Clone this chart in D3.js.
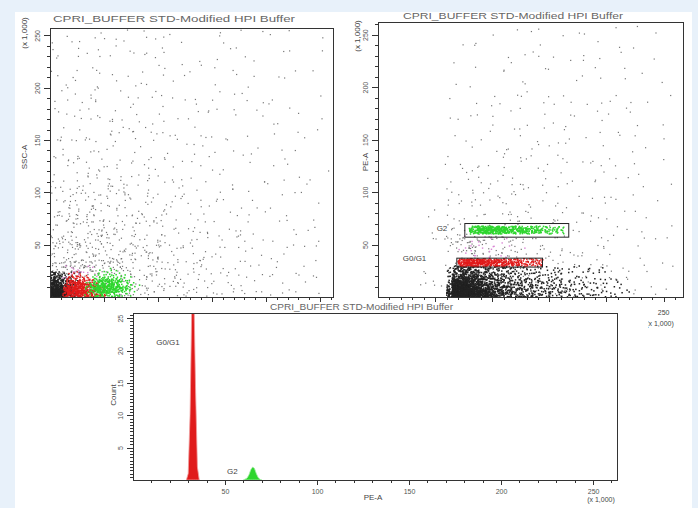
<!DOCTYPE html>
<html>
<head>
<meta charset="utf-8">
<style>
body { margin: 0; background: #e8f1fa; }
svg { display: block; font-family: "Liberation Sans", Arial, sans-serif; }
.axis path, .axis line { stroke: #333; shape-rendering: crispEdges; }
.axis text { fill: #555; font-size: 7px; font-family: "Liberation Sans", Arial, sans-serif; }
.lbl { fill: #444; font-size: 8px; }
.ttl { fill: #666; font-size: 8.5px; }
</style>
</head>
<body>
<svg width="698" height="508"></svg>
<script src="https://cdnjs.cloudflare.com/ajax/libs/d3/7.8.5/d3.min.js"></script>
<script>

var titleText = "CPRI_BUFFER STD-Modified HPI Buffer";
var majorTicks = [50, 100, 150, 200, 250];
var histTicks = [5, 10, 15, 20, 25];

// event counts per grid cell, rows listed top to bottom (units x 1,000)
// panel 1 (SSC-A), 20 x 20 cells from (0,0)
var p1Sparse = [
  [2,3,3,3,3,2,2,2,2,1,1,1,1],
  [3,3,3,3,3,3,2,2,2,2,1,1,1],
  [3,4,4,3,3,3,2,2,2,2,2,1,1],
  [4,4,4,4,3,3,3,2,2,2,2,1,1],
  [4,5,5,4,4,3,3,3,2,2,2,1,1],
  [5,6,6,5,4,4,3,3,2,2,2,2,1],
  [6,7,7,6,5,4,4,3,3,2,2,2,1],
  [8,10,10,8,6,5,4,3,3,3,2,2,1],
  [11,14,13,11,8,6,5,4,3,3,2,2,1],
  [16,19,18,14,11,8,6,5,4,3,3,2,2],
  [24,28,25,20,15,11,8,6,5,4,3,3,2],
  [38,40,33,26,19,14,10,8,6,5,4,3,2],
  [30,26,22,22,18,14,11,8,6,5,4,3,2]
];
// 4 x 4 cells from (0,0)
var p1Black = [
  [8,7,5,3,2,1,1],
  [12,11,8,5,3,2,1],
  [20,18,13,8,5,3,2],
  [32,30,22,14,8,5,3],
  [45,42,32,20,12,7,4],
  [55,50,38,26,16,9,5]
];
// 4 x 4 cells from (12,0)
var p1Red = [
  [0,1,2,2,1,1,0,0,0,0],
  [1,4,6,6,5,3,2,1,0,0],
  [3,9,12,12,10,8,5,3,1,0],
  [6,14,18,18,16,13,10,6,3,1],
  [8,18,22,22,20,18,14,10,6,3],
  [8,16,18,18,17,15,12,9,6,3]
];
// 4 x 4 cells from (32,0)
var p1Green = [
  [0,0,0,1,1,1,1,1,0,0,0,0,0],
  [0,0,1,2,2,2,2,1,1,1,0,0,0],
  [0,1,3,5,6,6,5,4,3,2,1,0,0],
  [1,3,8,12,14,14,12,10,7,4,2,1,0],
  [2,6,14,18,20,20,18,15,10,6,3,1,1],
  [2,6,12,16,18,18,16,13,9,5,3,1,0],
  [1,2,4,6,6,6,5,4,3,2,1,0,0]
];
// 6 x 6 cells from (12,18)
var p1Pink = [
  [1,2,2,1,1,0,0],
  [2,3,3,2,1,1,0]
];

// panel 2 (PE-A), 20 x 20 cells from (0,0)
var p2Sparse = [
  [0,0,0,1,1,1,2,2,2,2,1,1,1],
  [0,0,0,1,1,2,2,2,2,2,2,1,1],
  [0,0,0,1,2,2,2,2,2,2,2,1,1],
  [0,0,0,1,2,2,3,3,2,2,2,2,1],
  [0,0,0,2,2,3,3,3,3,2,2,2,1],
  [0,0,0,2,3,3,3,3,3,3,2,2,1],
  [0,0,1,3,4,4,4,3,3,3,2,2,1],
  [0,0,1,4,5,5,4,4,3,3,2,2,1],
  [0,0,1,6,7,6,5,4,4,3,3,2,1],
  [0,0,2,10,10,8,6,5,4,3,3,2,1],
  [0,0,3,30,30,18,10,7,5,4,3,2,2],
  [0,0,3,20,20,16,12,9,7,5,4,3,2],
  [0,1,4,10,10,10,10,10,8,6,5,3,2]
];
// 5 x 5 cells from (60,0)
var p2Base = [
  [2,10,12,11,9,8,7,6,5,5,4,4,3,3,3,2,2,2,2,2,1,1,1,1,1,1,1,1,0,0,0,0],
  [3,16,20,18,15,13,11,9,8,7,6,5,4,4,3,3,3,2,2,2,2,1,1,1,1,1,1,1,0,0,0,0],
  [5,30,36,32,26,21,17,13,11,9,8,7,6,5,5,4,4,3,3,3,2,2,2,2,1,1,1,1,1,1,0,0],
  [8,50,60,52,42,32,25,19,15,12,10,9,8,7,6,5,5,4,4,3,3,3,2,2,2,2,1,1,1,1,1,0],
  [14,80,90,78,60,45,34,26,20,16,13,11,10,9,8,7,6,5,5,4,4,3,3,3,2,2,2,2,1,1,1,1],
  [25,115,115,95,72,54,40,30,23,18,15,13,11,10,9,8,7,6,6,5,5,4,4,3,3,3,2,2,2,2,1,1]
];
// 5 x 2.5 cells from (70,29)
var p2Red = [
  [9,14,14,14,13,11,10,9,8,7,6,5,4,4,3],
  [14,22,22,21,20,17,14,13,11,10,8,7,6,4,4],
  [9,14,14,14,13,11,10,9,8,7,6,5,4,4,3]
];
// 5 x 2.5 cells from (80,60)
var p2Green = [
  [8,12,14,14,12,12,10,9,9,8,7,6,5,4,3,3,2],
  [14,21,22,22,21,20,18,16,15,13,12,10,8,6,5,4,3],
  [8,12,14,14,12,12,10,9,9,8,7,6,5,4,3,3,2]
];
// 10 x 7 cells from (70,37)
var p2Pink = [
  [1,2,2,1,1,0,0],
  [2,3,2,2,1,1,0],
  [1,2,2,1,1,0,0]
];

// gates on panel 2, data units
var gateNames = ["G2", "G0/G1"];
var gateX = [[76, 167], [69, 144]];
var gateY = [[57, 70], [28.5, 37]];

// histogram of PE-A (count per bin)
var redBins   = [29, 30, 31, 32, 33, 34, 35, 36];
var redCounts = [0, 1, 10, 28, 30, 14, 2, 0];
var greenBins   = [60, 62, 63, 64, 65, 66, 67, 68, 69, 70];
var greenCounts = [0, 0.3, 0.8, 1.6, 2.0, 1.8, 1.0, 0.4, 0.1, 0];

var colors = { black: "#222", sparse: "#555", red: "#e01b1b", green: "#2ed62e", pink: "#d985d4" };

var svg = d3.select("svg");
svg.append("rect").attr("x", 15).attr("y", 12).attr("width", 677).attr("height", 496).attr("fill", "#fff");

// deterministic hash used to scatter a cell's events inside the cell
function hash(n) { var s = Math.sin(n * 12.9898 + 78.233) * 43758.5453; return s - Math.floor(s); }

function cellPoints(rows, x0, y0, w, h, seed) {
  var pts = [];
  rows.forEach(function(row, r) {
    var yb = y0 + (rows.length - 1 - r) * h;
    row.forEach(function(n, c) {
      var xl = x0 + c * w;
      for (var i = 0; i < n; i++) {
        var k = seed * 10007 + r * 997 + c * 101 + i * 7.31;
        pts.push([xl + hash(k) * w, yb + hash(k + 0.517) * h]);
      }
    });
  });
  return pts;
}

function drawDots(g, pts, x, y, color, size, op) {
  g.append("g").attr("opacity", op || 1).selectAll("rect").data(pts).join("rect")
    .attr("x", function(d) { return x(d[0]) - size / 2; })
    .attr("y", function(d) { return y(d[1]) - size / 2; })
    .attr("width", size).attr("height", size)
    .attr("fill", color);
}

function minorTicks(max, step) { return d3.range(step, max, step); }

function drawAxes(g, x, y, w, h, xStep, yStep, yMajor) {
  var xmax = x.domain()[1], ymax = y.domain()[1];
  g.append("g").attr("class", "axis").attr("transform", "translate(0," + h + ")")
    .call(d3.axisBottom(x).tickValues(minorTicks(xmax, xStep)).tickSize(3).tickFormat(""))
    .call(function(a) { a.select(".domain").remove(); });
  g.append("g").attr("class", "axis").attr("transform", "translate(0," + h + ")")
    .call(d3.axisBottom(x).tickValues(majorTicks).tickSize(5).tickSizeOuter(0).tickFormat(""));
  g.append("g").attr("class", "axis")
    .call(d3.axisLeft(y).tickValues(minorTicks(ymax, yStep)).tickSize(3).tickFormat(""))
    .call(function(a) { a.select(".domain").remove(); });
  var ya = g.append("g").attr("class", "axis")
    .call(d3.axisLeft(y).tickValues(yMajor).tickSize(6).tickSizeOuter(0));
  ya.selectAll("text").attr("transform", "rotate(-90)")
    .attr("x", 0).attr("y", -10).attr("dy", 0).attr("text-anchor", "middle");
  // frame top and right
  g.append("path").attr("d", "M0,0H" + w + "V" + h)
    .attr("fill", "none").attr("stroke", "#333").attr("shape-rendering", "crispEdges");
}

function rotLabel(g, cx, cy, txt) {
  g.append("text").attr("class", "lbl")
    .attr("transform", "translate(" + cx + "," + cy + ") rotate(-90)")
    .attr("text-anchor", "middle").attr("dy", "0.35em").text(txt);
}

function panel(opt) {
  var w = opt.right - opt.left, h = opt.bottom - opt.top;
  var g = svg.append("g").attr("transform", "translate(" + opt.left + "," + opt.top + ")");
  var x = d3.scaleLinear().domain([0, opt.xmax]).range([0, w]);
  var y = d3.scaleLinear().domain([0, opt.ymax]).range([h, 0]);
  var id = "clip" + opt.left;
  svg.append("clipPath").attr("id", id).append("rect").attr("width", w).attr("height", h);
  var plot = g.append("g").attr("clip-path", "url(#" + id + ")");
  return { g: g, plot: plot, x: x, y: y, w: w, h: h };
}

// ---------- panel 1: SSC-A ----------
var P1 = panel({ left: 50, right: 333, top: 28, bottom: 297, xmax: 262, ymax: 257 });
drawDots(P1.plot, cellPoints(p1Sparse, 0, 0, 20, 20, 1), P1.x, P1.y, colors.sparse, 1.2, 0.8);
drawDots(P1.plot, cellPoints(p1Black, 0, 0, 4, 4, 2), P1.x, P1.y, colors.black, 1.5);
drawDots(P1.plot, cellPoints(p1Pink, 12, 18, 6, 6, 3), P1.x, P1.y, colors.pink, 1.4);
drawDots(P1.plot, cellPoints(p1Red, 12, 0, 4, 4, 4), P1.x, P1.y, colors.red, 1.5);
drawDots(P1.plot, cellPoints(p1Green, 32, 0, 4, 4, 5), P1.x, P1.y, colors.green, 1.5);
drawAxes(P1.g, P1.x, P1.y, P1.w, P1.h, 10, 10, majorTicks);
svg.append("text").attr("class", "ttl").attr("x", 53).attr("y", 22)
  .attr("textLength", 242).attr("lengthAdjust", "spacingAndGlyphs").text(titleText);
rotLabel(svg, 24, 157, "SSC-A");
rotLabel(svg, 24, 33, "(x 1,000)");

// ---------- panel 2: PE-A ----------
var P2 = panel({ left: 378, right: 683, top: 22, bottom: 297, xmax: 267, ymax: 262 });
drawDots(P2.plot, cellPoints(p2Sparse, 0, 0, 20, 20, 6), P2.x, P2.y, colors.sparse, 1.2, 0.8);
drawDots(P2.plot, cellPoints(p2Base, 60, 0, 5, 5, 7), P2.x, P2.y, colors.black, 1.5);
drawDots(P2.plot, cellPoints(p2Pink, 70, 37, 10, 7, 8), P2.x, P2.y, colors.pink, 1.4);
drawDots(P2.plot, cellPoints(p2Red, 70, 29, 5, 2.5, 9), P2.x, P2.y, colors.red, 1.5);
drawDots(P2.plot, cellPoints(p2Green, 80, 60, 5, 2.5, 10), P2.x, P2.y, colors.green, 1.5);
gateNames.forEach(function(n, i) {
  P2.g.append("rect")
    .attr("x", P2.x(gateX[i][0])).attr("y", P2.y(gateY[i][1]))
    .attr("width", P2.x(gateX[i][1]) - P2.x(gateX[i][0]))
    .attr("height", P2.y(gateY[i][0]) - P2.y(gateY[i][1]))
    .attr("fill", "none").attr("stroke", "#222").attr("stroke-width", 1);
});
P2.g.append("text").attr("class", "lbl").attr("x", P2.x(56)).attr("y", P2.y(65.5))
  .attr("text-anchor", "middle").attr("dy", "0.35em").text("G2");
P2.g.append("text").attr("class", "lbl").attr("x", P2.x(32)).attr("y", P2.y(37))
  .attr("text-anchor", "middle").attr("dy", "0.35em").text("G0/G1");
drawAxes(P2.g, P2.x, P2.y, P2.w, P2.h, 10, 10, majorTicks);
svg.append("text").attr("class", "ttl").attr("x", 403).attr("y", 19)
  .attr("textLength", 220).attr("lengthAdjust", "spacingAndGlyphs").text(titleText);
rotLabel(svg, 365, 162, "PE-A");
rotLabel(svg, 357, 36, "(x 1,000)");
svg.append("text").attr("class", "lbl").attr("x", 378 + P2.x(250)).attr("y", 315)
  .attr("text-anchor", "middle").style("font-size", "7px").text("250");
svg.append("text").attr("class", "lbl").attr("x", 660).attr("y", 326)
  .attr("text-anchor", "middle").style("font-size", "7px").text("(x 1,000)");

// ---------- panel 3: histogram ----------
svg.append("rect").attr("x", 15).attr("y", 302).attr("width", 633).attr("height", 206).attr("fill", "#fff");
var P3 = panel({ left: 133, right: 617, top: 313, bottom: 480, xmax: 263, ymax: 25.8 });
var area = d3.area()
  .x(function(d) { return P3.x(d[0]); })
  .y0(P3.h)
  .y1(function(d) { return P3.y(d[1]); });
P3.plot.append("path").datum(d3.zip(redBins, redCounts)).attr("d", area)
  .attr("fill", colors.red).attr("stroke", "#f0a0a0").attr("stroke-width", 0.8);
P3.plot.append("path").datum(d3.zip(greenBins, greenCounts)).attr("d", area)
  .attr("fill", colors.green).attr("stroke", "#a8eea8").attr("stroke-width", 0.8);
P3.g.append("text").attr("class", "lbl").attr("x", P3.x(19)).attr("y", P3.y(21.3))
  .attr("text-anchor", "middle").attr("dy", "0.35em").text("G0/G1");
P3.g.append("text").attr("class", "lbl").attr("x", P3.x(54)).attr("y", P3.y(1.4))
  .attr("text-anchor", "middle").attr("dy", "0.35em").text("G2");
drawAxes(P3.g, P3.x, P3.y, P3.w, P3.h, 10, 0.5, histTicks);
P3.g.append("g").attr("class", "axis").attr("transform", "translate(0," + P3.h + ")")
  .call(d3.axisBottom(P3.x).tickValues(majorTicks).tickSize(5).tickPadding(4))
  .call(function(a) { a.select(".domain").remove(); });
svg.append("text").attr("class", "ttl").attr("x", 270).attr("y", 310)
  .attr("textLength", 183).attr("lengthAdjust", "spacingAndGlyphs").text(titleText);
rotLabel(svg, 113, 395, "Count");
svg.append("text").attr("class", "lbl").attr("x", 373).attr("y", 500)
  .attr("text-anchor", "middle").text("PE-A");
svg.append("text").attr("class", "lbl").attr("x", 601).attr("y", 502)
  .attr("text-anchor", "middle").style("font-size", "7px").text("(x 1,000)");

</script>
</body>
</html>
